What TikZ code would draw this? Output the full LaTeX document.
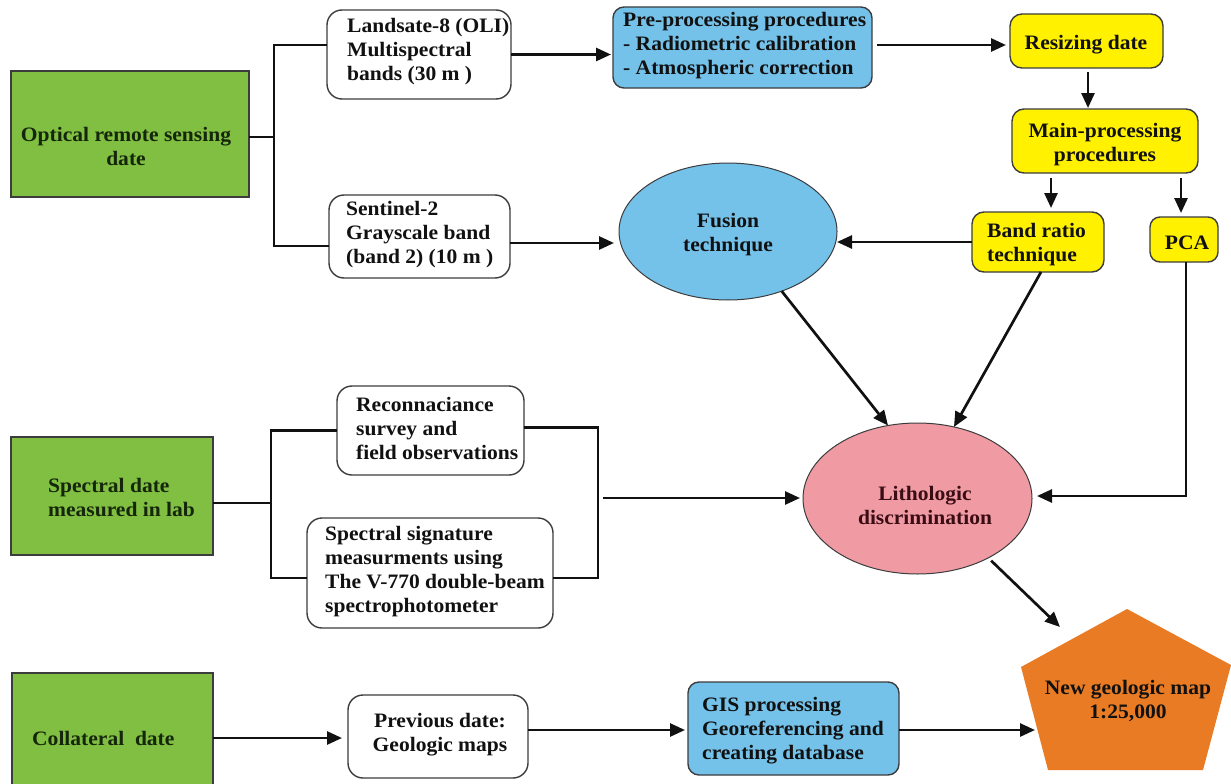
\documentclass[tikz,border=0pt]{standalone}
\usepackage{fontspec}
\setmainfont{Liberation Serif}[FakeStretch=1.05]
\usetikzlibrary{arrows.meta,shapes.geometric}
\definecolor{grn}{HTML}{80BF41}
\definecolor{blu}{HTML}{74C2EA}
\definecolor{yel}{HTML}{FFF100}
\definecolor{pnk}{HTML}{F09BA4}
\definecolor{org}{HTML}{E87B24}
\definecolor{edge}{HTML}{3C3C3C}
\definecolor{gtxt}{HTML}{15260B}
\definecolor{ptxt}{HTML}{3A0C14}
\definecolor{ink}{HTML}{111111}
\begin{document}
\begin{tikzpicture}[x=1pt,y=-1pt,
  font=\fontsize{20.5}{24}\selectfont\bfseries,
  shp/.style={draw=edge, line width=1.4pt, inner sep=0pt, outer sep=0pt},
  gbox/.style={shp, fill=grn},
  wbox/.style={shp, fill=white, rounded corners=15pt},
  bbox/.style={shp, fill=blu, rounded corners=11pt},
  ybox/.style={shp, fill=yel, rounded corners=12pt},
  oval/.style={draw=edge, line width=1pt, ellipse, inner sep=0pt, outer sep=0pt},
  txt/.style={inner sep=0pt, text=ink},
  conn/.style={draw=ink, line width=2.7pt},
  arr/.style={conn, -{Triangle[length=15pt,width=13pt]}}
]
\useasboundingbox (0,0) rectangle (1231,784);
\clip (0,0) rectangle (1231,784);

% ---------- boxes ----------
\node[gbox, minimum width=238, minimum height=126] (opt) at (130,134) {};
\node[wbox, minimum width=184, minimum height=89] (land) at (419,54.5) {};
\node[wbox, minimum width=181, minimum height=83] (sent) at (419.5,236.5) {};
\node[bbox, minimum width=259, minimum height=81] (pre) at (742.5,47.5) {};
\node[ybox, minimum width=153, minimum height=54] (res) at (1086.5,41) {};
\node[ybox, minimum width=186, minimum height=64] (main) at (1105,141) {};
\node[ybox, minimum width=132, minimum height=60] (band) at (1038,242) {};
\node[ybox, minimum width=68, minimum height=45, rounded corners=10pt] (pca) at (1184,239.5) {};
\node[oval, fill=blu, minimum width=218, minimum height=137] (fus) at (728,231.5) {};
\node[oval, fill=pnk, minimum width=229, minimum height=151] (lith) at (917.5,498.5) {};
\node[gbox, minimum width=202, minimum height=118] (spec) at (112,496) {};
\node[wbox, minimum width=187, minimum height=89] (rec) at (430.5,430.5) {};
\node[wbox, minimum width=246, minimum height=110] (sig) at (430,573) {};
\node[gbox, minimum width=201, minimum height=114] (col) at (112.5,730) {};
\node[wbox, minimum width=180, minimum height=83] (prev) at (438,736.5) {};
\node[bbox, minimum width=211, minimum height=93] (gis) at (793.5,728.5) {};
\fill[org] (1127,609) -- (1231,665) -- (1203,770) -- (1048,770) -- (1021,667) -- cycle;

% ---------- texts ----------
\node[txt, text=gtxt, align=center] (optT) at (126,146) {Optical remote sensing\\date};
\node[txt, anchor=west, align=left] (landT) at (347,51.5) {Landsate-8 (OLI)\\Multispectral\\bands (30 m )};
\node[txt, anchor=west, align=left] (sentT) at (346,234.5) {Sentinel-2\\Grayscale band\\(band 2) (10 m )};
\node[txt, anchor=west, align=left] (preT) at (623,46) {Pre-processing procedures\\- Radiometric calibration\\- Atmospheric correction};
\node[txt] (resT) at (1086,45) {Resizing date};
\node[txt, align=center] (mainT) at (1105,144.5) {Main-processing\\procedures};
\node[txt, anchor=west, align=left] (bandT) at (987,245) {Band ratio\\technique};
\node[txt] (pcaT) at (1187,243) {PCA};
\node[txt, align=center] (fusT) at (728,235) {Fusion\\technique};
\node[txt, text=ptxt, align=center] (lithT) at (925,505) {Lithologic\\discrimination};
\node[txt, text=gtxt, anchor=west, align=left] (specT) at (48,498) {Spectral date\\measured in lab};
\node[txt, anchor=west, align=left] (recT) at (356,428) {Reconnaciance\\survey and\\field observations};
\node[txt, anchor=west, align=left] (sigT) at (325,572) {Spectral signature\\measurments using\\The V-770 double-beam\\spectrophotometer};
\node[txt, text=gtxt, anchor=west] (colT) at (32,738) {Collateral\ \ date};
\node[txt, align=center] (prevT) at (440,735) {Previous date:\\Geologic maps};
\node[txt, anchor=west, align=left] (gisT) at (702,731) {GIS processing\\Georeferencing and\\creating database};
\node[txt, align=center] (pentT) at (1128,701) {New geologic map\\1:25,000};

% ---------- junctions ----------
\coordinate (j1) at (274,137);
\coordinate (j2) at (271,503);
\coordinate (j3) at (598,498);
\coordinate (j4) at (603,498);
\coordinate (pTL) at (1060,627);
\coordinate (pL) at (1035,730);

% ---------- connectors ----------
\draw[conn] ([yshift=-3pt]opt.east) -- (j1);
\draw[conn] ([yshift=9.5pt]land.west) -| (j1) |- ([yshift=-9.5pt]sent.west);
\draw[arr, shorten >=2pt] (land.east) -- (land.east -| pre.west);
\draw[arr, shorten <=5pt, shorten >=4pt] ([yshift=2.5pt]pre.east) -- ([yshift=2.5pt]pre.east -| res.west);
\draw[arr, shorten <=4pt, shorten >=1pt] ([xshift=1.5pt]res.south) -- ([xshift=1.5pt]res.south |- main.north);
\draw[arr, shorten <=5pt, shorten >=4pt] ([xshift=-54pt]main.south) -- ([xshift=-54pt]main.south |- band.north);
\draw[arr, shorten <=5pt, shorten >=4pt] ([xshift=76pt]main.south) -- ([xshift=76pt]main.south |- pca.north);
\draw[arr, shorten >=5pt] ([yshift=-6.5pt]sent.east) -- ([yshift=-6.5pt]sent.east -| fus.west);
\draw[arr] (band.west) -- (band.west -| fus.east);
\draw[arr] (fus.-48) -- (lith.112);
\draw[arr] ([xshift=3pt]band.south) -- (lith.63);
\draw[arr, shorten >=5pt] ([xshift=2pt]pca.south) |- ([yshift=2.5pt]lith.east);
\draw[conn] ([yshift=-7pt]spec.east) -- (j2);
\draw[conn] (rec.west) -| (j2) |- ([yshift=-5pt]sig.west);
\draw[conn] ([yshift=3pt]rec.east) -| (j3) |- ([yshift=-5pt]sig.east);
\draw[arr, shorten >=3pt] (j4) -- (j4 -| lith.west);
\draw[arr, shorten <=4pt] (lith.-40) -- (pTL);
\draw[arr, shorten >=6pt] ([yshift=-8pt]col.east) -- ([yshift=-8pt]col.east -| prev.west);
\draw[arr, shorten >=3pt] ([yshift=6.5pt]prev.east) -- ([yshift=6.5pt]prev.east -| gis.west);
\draw[arr] ([yshift=-1.5pt]gis.east) -- (pL);
\end{tikzpicture}
\end{document}
